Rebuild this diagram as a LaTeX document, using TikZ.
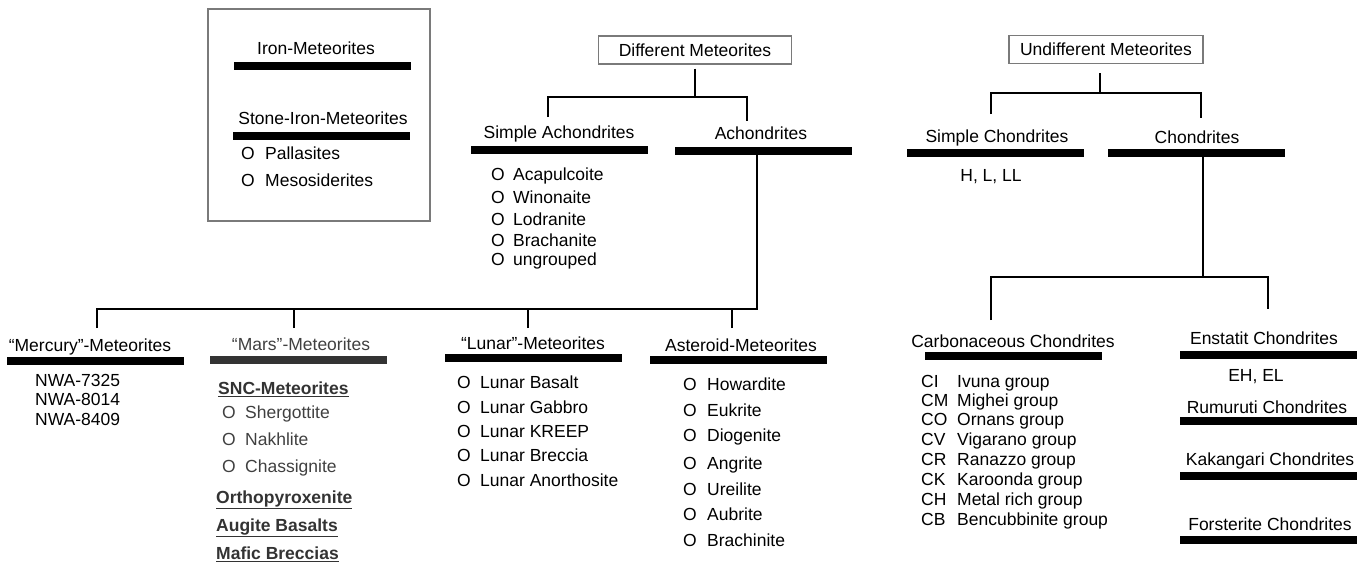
\documentclass[tikz,border=0pt]{standalone}
\usepackage{fontspec}
\setmainfont{Liberation Sans}
\definecolor{marsgray}{HTML}{404040}
\definecolor{marsbar}{HTML}{333333}
\definecolor{boxgray}{HTML}{7A7A7A}
\newcommand{\bul}[2][22pt]{\makebox[#1][l]{O}#2}
\newcommand{\grp}[2]{\makebox[36pt][l]{#1}#2}
\tikzset{
  lbl/.style={inner sep=0pt, text height=12.5pt, text depth=0pt, font=\fontsize{17.5}{21}\selectfont},
  itm/.style={lbl, anchor=west},
  bar/.style={fill=black, inner sep=0pt, minimum width=177pt, minimum height=8pt},
  tbox/.style={draw=boxgray, line width=1.2pt, inner sep=0pt, minimum height=28pt, font=\fontsize{17.5}{21}\selectfont},
  link/.style={line width=2pt}
}
\begin{document}
\begin{tikzpicture}[x=1pt,y=-1pt]
		\useasboundingbox (0,0) rectangle (1369,563);
		% legend
		\draw [boxgray, line width=1.2pt] (208,9) rectangle (430,221);
		\node [lbl] (iron) at (316,48) {Iron-Meteorites};
		\node [bar] (ironbar) at (322,66) {};
		\node [lbl] (stone) at (323,118) {Stone-Iron-Meteorites};
		\node [bar] (stonebar) at (321.5,136) {};
		\node [itm] (pall) at (241,153) {\bul[24pt]{Pallasites}};
		\node [itm] (meso) at (241,180) {\bul[24pt]{Mesosiderites}};
		% differentiated
		\node [tbox, minimum width=193pt] (diff) at (695,50) {Different Meteorites};
		\coordinate (dj) at (697,97);
		\coordinate (sachtop) at (548,117);
		\coordinate (achtop) at (747,121);
		\draw [link, shorten <=4pt] (diff.south) -- (diff.south |- dj);
		\draw [link] (sachtop) |- (achtop |- dj) -- (achtop);
		\node [lbl] (sach) at (559,132) {Simple Achondrites};
		\node [bar] (sachbar) at (559.5,150) {};
		\node [itm] (acap) at (491,174) {\bul{Acapulcoite}};
		\node [itm] (wino) at (491,197) {\bul{Winonaite}};
		\node [itm] (lodr) at (491,219) {\bul{Lodranite}};
		\node [itm] (brach) at (491,240) {\bul{Brachanite}};
		\node [itm] (ungr) at (491,259) {\bul{ungrouped}};
		\node [lbl] (ach) at (761,133) {Achondrites};
		\node [bar] (achbar) at (763,151) {};
		\coordinate (aj) at (757,309);
		\coordinate (merctop) at (97,328);
		\coordinate (marstop) at (294,328);
		\coordinate (lunartop) at (528,328);
		\coordinate (asttop) at (732,328);
		\draw [link] (merctop) |- (aj) -- (aj |- achbar.south);
		\draw [link] (marstop) -- (marstop |- aj);
		\draw [link] (lunartop) -- (lunartop |- aj);
		\draw [link] (asttop) -- (asttop |- aj);
		% mercury
		\node [lbl] (merc) at (90,345) {“Mercury”-Meteorites};
		\node [bar] (mercbar) at (95.5,361) {};
		\node [itm] (nwa1) at (35,380) {NWA-7325};
		\node [itm] (nwa2) at (35,399) {NWA-8014};
		\node [itm] (nwa3) at (35,419) {NWA-8409};
		% mars
		\node [lbl, text=marsgray] (mars) at (301,344) {“Mars”-Meteorites};
		\node [bar, fill=marsbar] (marsbar) at (298,360) {};
		\node [itm, text=marsbar] (snc) at (218,388) {\underline{\textbf{SNC-Meteorites}}};
		\node [itm, text=marsgray] (sher) at (222,412) {\bul[23pt]{Shergottite}};
		\node [itm, text=marsgray] (nakh) at (222,439) {\bul[23pt]{Nakhlite}};
		\node [itm, text=marsgray] (chas) at (222,466) {\bul[23pt]{Chassignite}};
		\node [itm, text=marsbar] (ortho) at (216,497) {\underline{\textbf{Orthopyroxenite}}};
		\node [itm, text=marsbar] (augi) at (216,525) {\underline{\textbf{Augite Basalts}}};
		\node [itm, text=marsbar] (mafi) at (216,553) {\underline{\textbf{Mafic Breccias}}};
		% lunar
		\node [lbl] (lunar) at (533,343) {“Lunar”-Meteorites};
		\node [bar] (lunarbar) at (533,358) {};
		\node [itm] (lbas) at (457,382) {\bul[23pt]{Lunar Basalt}};
		\node [itm] (lgab) at (457,407) {\bul[23pt]{Lunar Gabbro}};
		\node [itm] (lkre) at (457,431) {\bul[23pt]{Lunar KREEP}};
		\node [itm] (lbre) at (457,455) {\bul[23pt]{Lunar Breccia}};
		\node [itm] (lano) at (457,480) {\bul[23pt]{Lunar Anorthosite}};
		% asteroid
		\node [lbl] (ast) at (741,345) {Asteroid-Meteorites};
		\node [bar] (astbar) at (738.5,360) {};
		\node [itm] (howa) at (683,384) {\bul[24pt]{Howardite}};
		\node [itm] (eukr) at (683,410) {\bul[24pt]{Eukrite}};
		\node [itm] (diog) at (683,435) {\bul[24pt]{Diogenite}};
		\node [itm] (angr) at (683,463) {\bul[24pt]{Angrite}};
		\node [itm] (urei) at (683,489) {\bul[24pt]{Ureilite}};
		\node [itm] (aubr) at (683,514) {\bul[24pt]{Aubrite}};
		\node [itm] (brch) at (683,540) {\bul[24pt]{Brachinite}};
		% undifferentiated
		\node [tbox, minimum width=194pt] (undiff) at (1106,49.5) {Undifferent Meteorites};
		\coordinate (uj) at (1100,93);
		\coordinate (schtop) at (991,114);
		\coordinate (chontop) at (1201,118);
		\draw [link] (uj |- 0,73) -- (uj);
		\draw [link] (schtop) |- (chontop |- uj) -- (chontop);
		\node [lbl] (sch) at (997,136) {Simple Chondrites};
		\node [bar] (schbar) at (995.5,153) {};
		\node [lbl] (hlll) at (991,175) {H, L, LL};
		\node [lbl] (chon) at (1197,137) {Chondrites};
		\node [bar] (chonbar) at (1196.5,153) {};
		\coordinate (cj) at (1203,277);
		\coordinate (carbtop) at (991,320);
		\coordinate (ensttop) at (1268,309);
		\draw [link] (cj |- chonbar.south) -- (cj);
		\draw [link] (carbtop) |- (ensttop |- cj) -- (ensttop);
		% carbonaceous
		\node [lbl] (carb) at (1013,341) {Carbonaceous Chondrites};
		\node [bar] (carbbar) at (1013,356) {};
		\node [itm] (ci) at (921,381) {\grp{CI}{Ivuna group}};
		\node [itm] (cm) at (921,400) {\grp{CM}{Mighei group}};
		\node [itm] (co) at (921,419) {\grp{CO}{Ornans group}};
		\node [itm] (cv) at (921,439) {\grp{CV}{Vigarano group}};
		\node [itm] (cr) at (921,459) {\grp{CR}{Ranazzo group}};
		\node [itm] (ck) at (921,479) {\grp{CK}{Karoonda group}};
		\node [itm] (ch) at (921,499) {\grp{CH}{Metal rich group}};
		\node [itm] (cb) at (921,519) {\grp{CB}{Bencubbinite group}};
		% other chondrites
		\node [lbl] (enst) at (1264,338) {Enstatit Chondrites};
		\node [bar] (enstbar) at (1268,355) {};
		\node [lbl] (ehel) at (1256,375) {EH, EL};
		\node [lbl] (rumu) at (1267,407) {Rumuruti Chondrites};
		\node [bar] (rumubar) at (1268,421) {};
		\node [lbl] (kaka) at (1270,459) {Kakangari Chondrites};
		\node [bar] (kakabar) at (1268,476) {};
		\node [lbl] (fors) at (1270,524) {Forsterite Chondrites};
		\node [bar] (forsbar) at (1268,540) {};
	\end{tikzpicture}
\end{document}
